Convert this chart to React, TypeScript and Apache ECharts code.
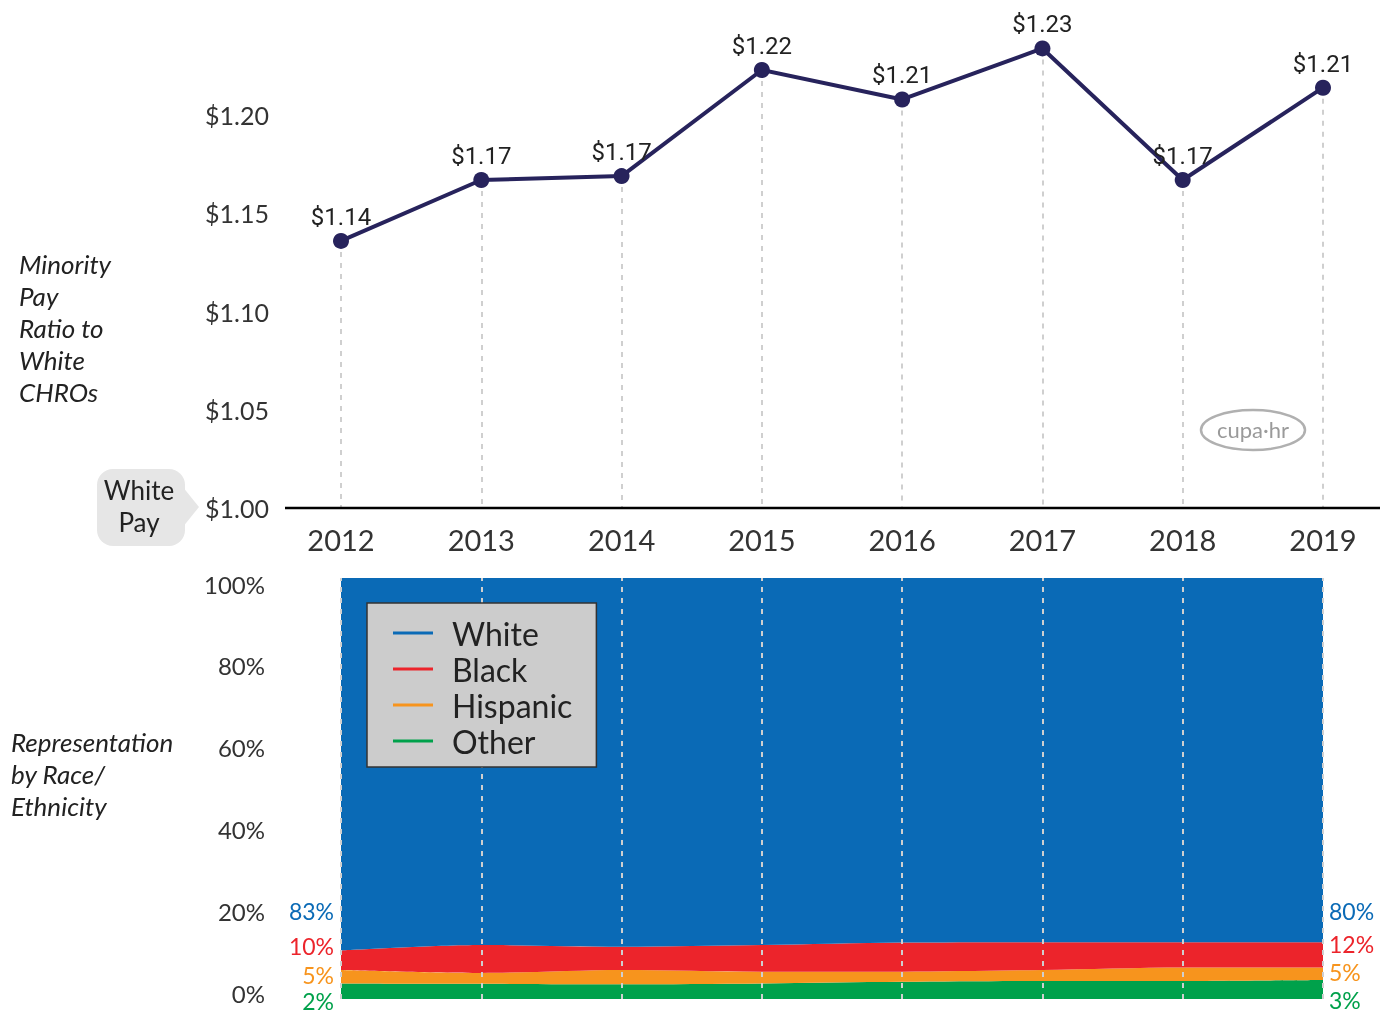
import React, { useEffect, useRef } from "react";
import * as echarts from "echarts";

const years = ["2012", "2013", "2014", "2015", "2016", "2017", "2018", "2019"];
const payRatio = [1.136, 1.167, 1.169, 1.223, 1.208, 1.234, 1.167, 1.214];
const payTicks = [1.0, 1.05, 1.1, 1.15, 1.2];

const raceNames = ["White", "Black", "Hispanic", "Other"];
const raceColors = ["#0a6ab6", "#ec242b", "#f7941d", "#00a14b"];
const white = [88.5, 87.2, 87.6, 87.2, 86.6, 86.5, 86.5, 86.5];
const black = [4.6, 6.6, 5.5, 6.3, 6.9, 6.6, 6.0, 6.0];
const hispanic = [3.2, 2.6, 3.4, 2.8, 2.4, 2.6, 3.2, 3.0];
const other = [3.7, 3.6, 3.5, 3.7, 4.1, 4.3, 4.3, 4.5];
const startLabels = ["83%", "10%", "5%", "2%"];
const endLabels = ["80%", "12%", "5%", "3%"];

const topTitle = ["Minority", "Pay", "Ratio to", "White", "CHROs"];
const bottomTitle = ["Representation", "by Race/", "Ethnicity"];

export default function App() {
  const ref = useRef<HTMLDivElement>(null);
  useEffect(() => {
    if (!ref.current) return;
    const chart = echarts.init(ref.current, null, { renderer: "svg" });
    const sans = "Lato, 'Noto Sans', sans-serif";
    const italicFont = "Lato, 'Noto Sans', sans-serif";
    const raceData = [white, black, hispanic, other];
    const startY = [911, 946, 975, 1001];
    const endY = [911, 944, 972, 1000];

    const areaSeries = [3, 2, 1, 0].map((k) => ({
      name: raceNames[k],
      type: "line",
      xAxisIndex: 1,
      yAxisIndex: 1,
      stack: "race",
      data: raceData[k],
      smooth: 0.3,
      symbol: "none",
      color: raceColors[k],
      itemStyle: { color: raceColors[k] },
      lineStyle: { width: 0, color: raceColors[k] },
      areaStyle: { color: raceColors[k], opacity: 1 },
      z: 2,
      markLine:
        k === 0
          ? {
              silent: true,
              symbol: ["none", "none"],
              label: { show: false },
              lineStyle: { color: "#cfcfcf", type: [5, 6], width: 2 },
              data: years.map((y) => ({ xAxis: y })),
            }
          : undefined,
    }));

    const graphic: any[] = [
      {
        type: "line",
        shape: { x1: 285, y1: 508, x2: 1380, y2: 508 },
        style: { stroke: "#000", lineWidth: 2.5 },
        z: 10,
      },
      // White Pay bubble
      {
        type: "rect",
        shape: { x: 97, y: 469, width: 88, height: 77, r: 16 },
        style: { fill: "#e6e6e6" },
      },
      {
        type: "polygon",
        shape: { points: [[182, 486], [199, 507], [182, 528]] },
        style: { fill: "#e6e6e6" },
      },
      {
        type: "text",
        x: 139,
        y: 490,
        style: { text: "White", fontSize: 26, fontFamily: sans, fill: "#222", align: "center", verticalAlign: "middle" },
      },
      {
        type: "text",
        x: 139,
        y: 522,
        style: { text: "Pay", fontSize: 26, fontFamily: sans, fill: "#222", align: "center", verticalAlign: "middle" },
      },
      // logo
      {
        type: "ellipse",
        shape: { cx: 1253, cy: 430, rx: 52, ry: 20 },
        style: { fill: "none", stroke: "#b0b0b0", lineWidth: 2.5 },
      },
      {
        type: "text",
        x: 1253,
        y: 429,
        style: { text: "cupa·hr", fontSize: 22, fontFamily: sans, fill: "#9a9a9a", align: "center", verticalAlign: "middle" },
      },
    ];
    topTitle.forEach((t, i) =>
      graphic.push({
        type: "text",
        x: 19,
        y: 264 + i * 32,
        style: { text: t, fontSize: 26, fontStyle: "italic", fontFamily: italicFont, fill: "#222", verticalAlign: "middle" },
      })
    );
    bottomTitle.forEach((t, i) =>
      graphic.push({
        type: "text",
        x: 11,
        y: 742 + i * 32,
        style: { text: t, fontSize: 26, fontStyle: "italic", fontFamily: italicFont, fill: "#222", verticalAlign: "middle" },
      })
    );
    startLabels.forEach((t, i) =>
      graphic.push({
        type: "text",
        x: 334,
        y: startY[i],
        style: { text: t, fontSize: 23, fontFamily: sans, fill: raceColors[i], align: "right", verticalAlign: "middle" },
      })
    );
    endLabels.forEach((t, i) =>
      graphic.push({
        type: "text",
        x: 1329,
        y: endY[i],
        style: { text: t, fontSize: 23, fontFamily: sans, fill: raceColors[i], align: "left", verticalAlign: "middle" },
      })
    );

    chart.setOption({
      animation: false,
      textStyle: { fontFamily: sans },
      grid: [
        { left: 341, right: 70, top: 17, bottom: 507 },
        { left: 341, right: 70, top: 578, bottom: 16 },
        { left: 341, right: 70, top: 584, bottom: 22 },
      ],
      xAxis: [
        {
          type: "category",
          gridIndex: 0,
          data: years,
          boundaryGap: false,
          axisLine: { show: false },
          axisTick: { show: false },
          axisLabel: { fontSize: 29, color: "#333", margin: 17, fontFamily: sans },
        },
        {
          type: "category",
          gridIndex: 1,
          data: years,
          boundaryGap: false,
          show: false,
        },
        { type: "value", gridIndex: 2, min: 0, max: 1, show: false },
      ],
      yAxis: [
        {
          type: "value",
          gridIndex: 0,
          min: 1,
          max: 1.25,
          interval: 0.05,
          splitLine: { show: false },
          axisLine: { show: false },
          axisTick: { show: false },
          axisLabel: {
            fontSize: 25,
            color: "#333",
            margin: 72,
            fontFamily: sans,
            formatter: (v: number) => (payTicks.some((t) => Math.abs(t - v) < 1e-6) ? "$" + v.toFixed(2) : ""),
          },
        },
        { type: "value", gridIndex: 1, min: 0, max: 100, show: false },
        {
          type: "value",
          gridIndex: 2,
          min: 0,
          max: 100,
          interval: 20,
          splitLine: { show: false },
          axisLine: { show: false },
          axisTick: { show: false },
          axisLabel: { fontSize: 24, color: "#333", margin: 76, fontFamily: sans, formatter: "{value}%" },
        },
      ],
      legend: {
        data: raceNames,
        orient: "vertical",
        left: 367,
        top: 603,
        z: 50,
        backgroundColor: "#cccccc",
        borderColor: "#333",
        borderWidth: 1.5,
        borderRadius: 0,
        padding: [12, 24, 8, 26],
        itemGap: 0,
        itemWidth: 40,
        itemHeight: 3,
        icon: "rect",
        selectedMode: false,
        textStyle: { fontSize: 32, color: "#222", lineHeight: 36, fontFamily: sans, padding: [0, 0, 0, 14] },
      },
      graphic,
      series: [
        ...areaSeries,
        {
          name: "Pay Ratio",
          type: "line",
          xAxisIndex: 0,
          yAxisIndex: 0,
          data: payRatio,
          symbol: "circle",
          symbolSize: 16,
          lineStyle: { color: "#27235c", width: 4 },
          itemStyle: { color: "#27235c" },
          z: 5,
          label: {
            show: true,
            position: "top",
            distance: 4,
            fontSize: 24,
            color: "#222",
            fontFamily: "Roboto, sans-serif",
            formatter: (p: any) => "$" + p.value.toFixed(2),
          },
          markLine: {
            silent: true,
            symbol: ["none", "none"],
            label: { show: false },
            lineStyle: { color: "#cfcfcf", type: [5, 6], width: 2 },
            z: 1,
            data: payRatio.map((v, i) => [{ coord: [years[i], v] }, { coord: [years[i], 1] }]),
          },
        },
      ],
    });
    return () => chart.dispose();
  }, []);
  return <div ref={ref} style={{ position: "fixed", left: 0, top: 0, width: 1393, height: 1015 }} />;
}
